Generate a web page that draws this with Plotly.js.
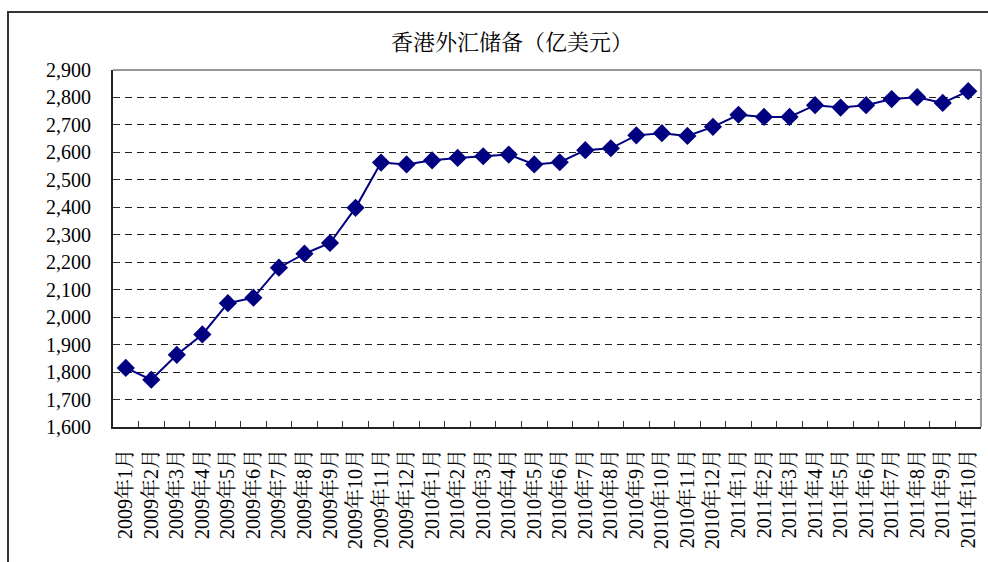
<!DOCTYPE html>
<html>
<head>
<meta charset="utf-8">
<script src="https://cdn.plot.ly/plotly-3.0.1.min.js"></script>
<style>
  html, body { margin: 0; padding: 0; background: #fff; }
  #frame { position: absolute; left: 7px; top: 11px; width: 990px; height: 560px;
           border-top: 2px solid #333; border-left: 2px solid #333; }
  #chart { position: absolute; left: 0; top: 0; width: 988px; height: 562px; }
</style>
</head>
<body>
<div id="frame"></div>
<div id="chart"></div>
<script>
const chartTitle = "香港外汇储备（亿美元）";
const categories = [
  "2009年1月","2009年2月","2009年3月","2009年4月","2009年5月","2009年6月",
  "2009年7月","2009年8月","2009年9月","2009年10月","2009年11月","2009年12月",
  "2010年1月","2010年2月","2010年3月","2010年4月","2010年5月","2010年6月",
  "2010年7月","2010年8月","2010年9月","2010年10月","2010年11月","2010年12月",
  "2011年1月","2011年2月","2011年3月","2011年4月","2011年5月","2011年6月",
  "2011年7月","2011年8月","2011年9月","2011年10月"
];
const reserves = [
  1815, 1772, 1863, 1937, 2051, 2071,
  2180, 2231, 2270, 2398, 2563, 2556,
  2571, 2580, 2586, 2592, 2556, 2564,
  2608, 2615, 2662, 2670, 2660, 2693,
  2737, 2729, 2729, 2772, 2763, 2772,
  2794, 2801, 2780, 2823
];
const yRange = [1600, 2900];
const yStep = 100;

const serifFamily = "'Liberation Serif', 'Noto Serif CJK SC', serif";

const trace = {
  type: "scatter",
  mode: "lines+markers",
  x: categories,
  y: reserves,
  line: { color: "#000080", width: 2 },
  marker: { symbol: "diamond", size: 14, color: "#000080" },
  hoverinfo: "x+y",
  showlegend: false
};

const layout = {
  width: 988,
  height: 562,
  paper_bgcolor: "rgba(0,0,0,0)",
  plot_bgcolor: "#fff",
  margin: { l: 113, r: 7, t: 70, b: 135, pad: 0 },
  title: {
    text: chartTitle,
    font: { family: "'Noto Serif CJK SC', serif", size: 22, color: "#000" },
    x: 512 / 988, xref: "container", xanchor: "center",
    y: 1 - 42 / 562, yref: "container", yanchor: "middle"
  },
  xaxis: {
    type: "category",
    range: [-0.5, categories.length - 0.5],
    tickson: "boundaries",
    ticks: "inside",
    ticklen: 6,
    tickcolor: "#333",
    tickwidth: 1,
    tickangle: -90,
    tickfont: { family: serifFamily, size: 20, color: "#000" },
    ticklabelstandoff: 12,
    showline: true,
    linecolor: "#222",
    linewidth: 2,
    showgrid: false,
    zeroline: false,
    fixedrange: true
  },
  yaxis: {
    range: yRange,
    dtick: yStep,
    tick0: yRange[0],
    tickformat: ",d",
    ticks: "inside",
    ticklen: 6,
    tickcolor: "#333",
    tickwidth: 1,
    tickfont: { family: serifFamily, size: 20, color: "#000" },
    ticklabelstandoff: 16,
    showline: true,
    linecolor: "#222",
    linewidth: 2,
    showgrid: true,
    gridcolor: "#222",
    gridwidth: 1,
    griddash: "7px,5px",
    zeroline: false,
    fixedrange: true
  },
  shapes: [
    { type: "line", xref: "paper", yref: "paper", x0: 0, x1: 1, y0: 1, y1: 1,
      line: { color: "#999", width: 2 }, layer: "above" },
    { type: "line", xref: "paper", yref: "paper", x0: 1, x1: 1, y0: 0, y1: 1,
      line: { color: "#999", width: 2 }, layer: "above" }
  ]
};

Plotly.newPlot("chart", [trace], layout, { displayModeBar: false });
</script>
</body>
</html>
